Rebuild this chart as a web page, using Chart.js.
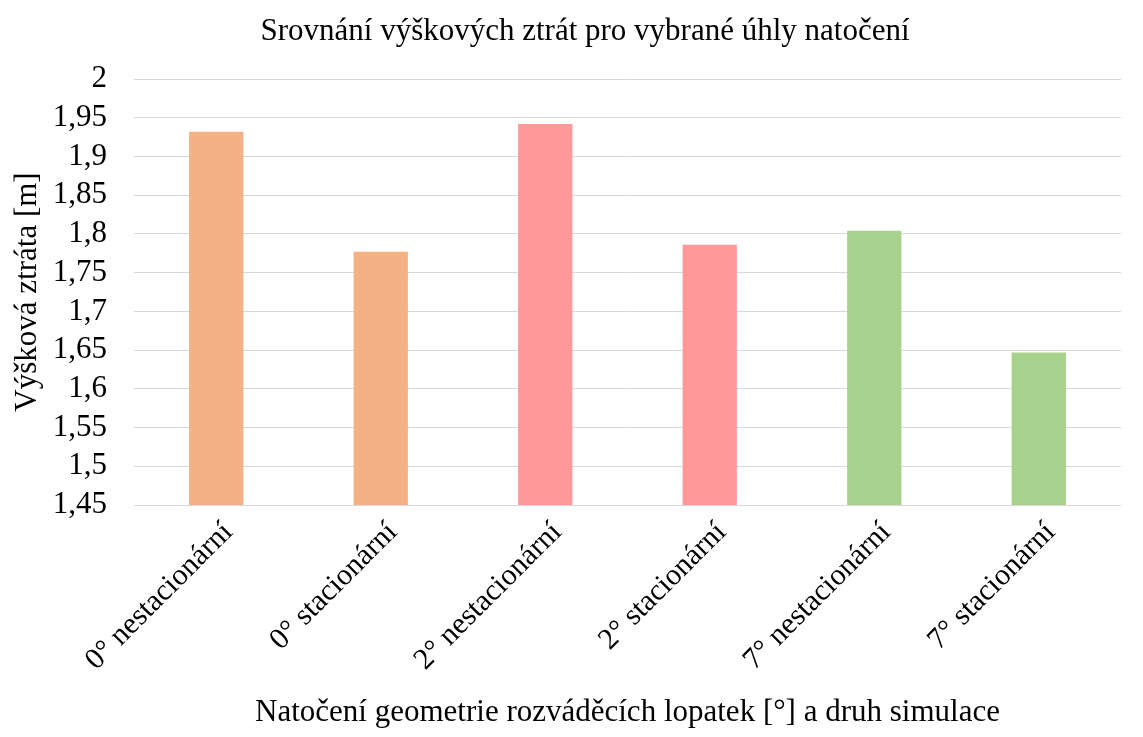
<!DOCTYPE html>
<html>
<head>
<meta charset="utf-8">
<script src="https://cdn.jsdelivr.net/npm/chart.js@4/dist/chart.umd.min.js"></script>
<style>
  html, body { margin: 0; padding: 0; background: #fff; }
  #wrap { width: 1143px; height: 737px; }
</style>
</head>
<body>
<div id="wrap"><canvas id="lossChart" width="1143" height="737"></canvas></div>
<script>
// ===== Data =====
const categories = ['0° nestacionární', '0° stacionární', '2° nestacionární', '2° stacionární', '7° nestacionární', '7° stacionární'];
const headLoss = [1.932, 1.777, 1.942, 1.786, 1.804, 1.647];
const barColors = ['#F4B183', '#F4B183', '#FF9999', '#FF9999', '#A9D18E', '#A9D18E'];
const yTicks = [1.45, 1.5, 1.55, 1.6, 1.65, 1.7, 1.75, 1.8, 1.85, 1.9, 1.95, 2];

const chartTitle = 'Srovnání výškových ztrát pro vybrané úhly natočení';
const xTitle = 'Natočení geometrie rozváděcích lopatek [°] a druh simulace';
const yTitle = 'Výšková ztráta [m]';

const serif = "'Liberation Serif', 'Times New Roman', serif";

// chart title is centred on the whole chart, not on the plot area
const titlePlugin = {
    id: 'chartTitle',
    afterDraw(chart) {
        const ctx = chart.ctx;
        ctx.save();
        ctx.fillStyle = '#000';
        ctx.textAlign = 'center';
        ctx.textBaseline = 'middle';
        ctx.font = '31px ' + serif;
        ctx.fillText(chartTitle, 585, 32);
        ctx.restore();
    }
};

new Chart(document.getElementById('lossChart'), {
    type: 'bar',
    data: {
        labels: categories,
        datasets: [{
            data: headLoss,
            backgroundColor: barColors,
            categoryPercentage: 1,
            barPercentage: 0.33
        }]
    },
    options: {
        responsive: false,
        animation: false,
        layout: { padding: { top: 79, bottom: 0, left: 0, right: 22 } },
        plugins: {
            legend: { display: false },
            tooltip: { enabled: false }
        },
        scales: {
            x: {
                afterFit(axis) { axis.height = 232; },
                grid: { display: false, drawTicks: false },
                border: { display: false },
                ticks: {
                    color: '#000',
                    font: { family: serif, size: 30 },
                    minRotation: 45,
                    maxRotation: 45,
                    padding: 10,
                    labelOffset: 12
                },
                title: {
                    display: true,
                    text: xTitle,
                    color: '#000',
                    font: { family: serif, size: 31 },
                    padding: { top: 0, bottom: 6 }
                }
            },
            y: {
                min: 1.45,
                max: 2,
                afterBuildTicks(axis) {
                    axis.ticks = yTicks.map(v => ({ value: v }));
                },
                afterFit(axis) { axis.width = 134; },
                grid: { color: '#d9d9d9', lineWidth: 1, drawTicks: false },
                border: { display: false },
                ticks: {
                    color: '#000',
                    font: { family: serif, size: 31, lineHeight: 1 },
                    padding: 27,
                    autoSkip: false,
                    callback: v => String(Math.round(v * 100) / 100).replace('.', ',')
                },
                title: {
                    display: true,
                    text: yTitle,
                    color: '#000',
                    font: { family: serif, size: 31 },
                    padding: { top: 9, bottom: 0 }
                }
            }
        }
    },
    plugins: [titlePlugin]
});
</script>
</body>
</html>
